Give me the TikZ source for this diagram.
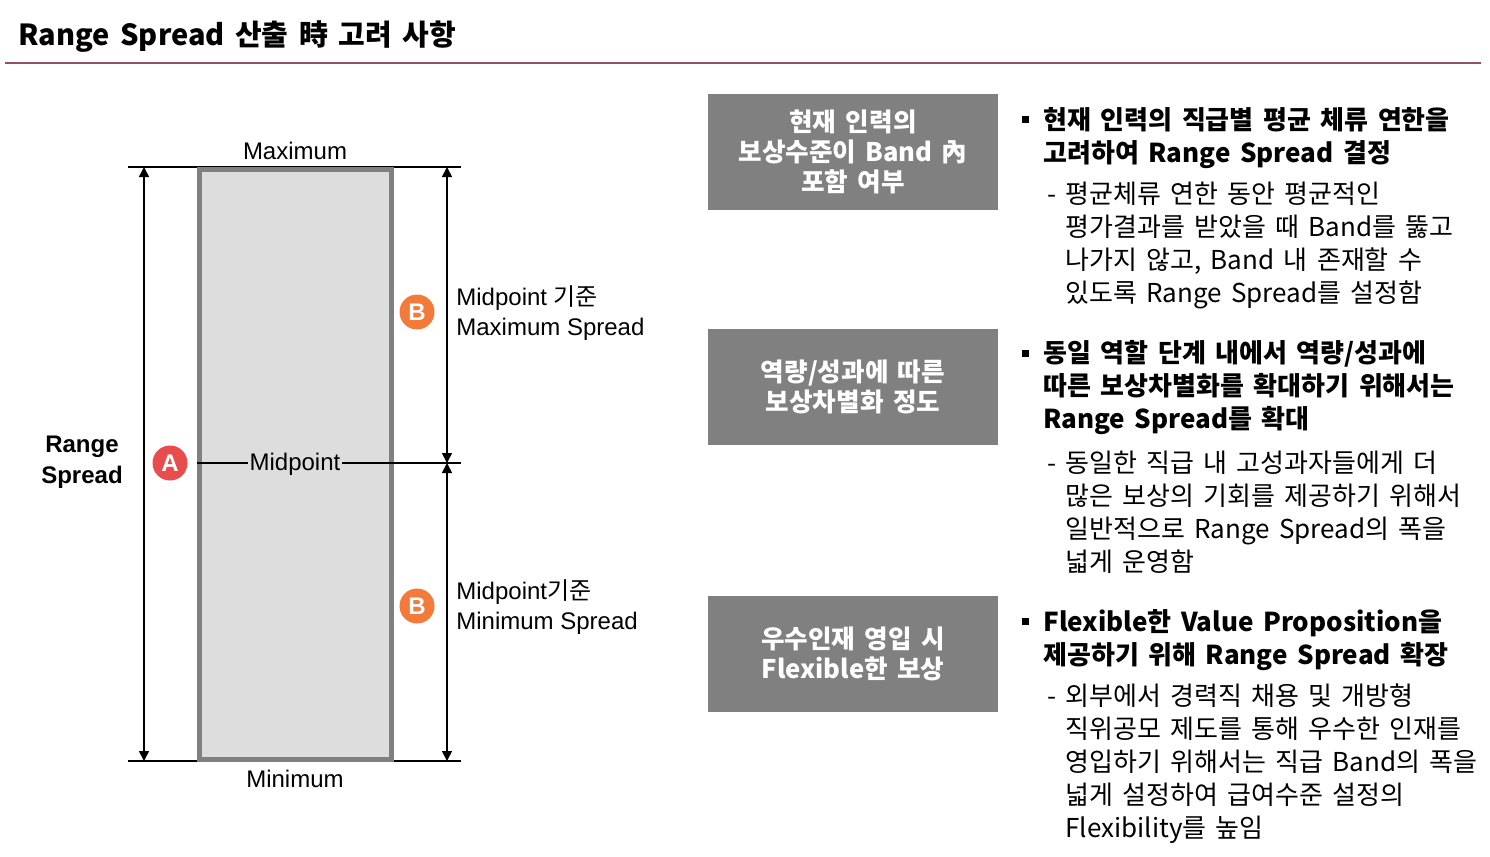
\documentclass[tikz,border=0pt]{standalone}
\usepackage{fontspec}
\setmainfont[WordSpace=1.6]{Noto Sans CJK KR}
\newfontfamily\krfont{Noto Sans CJK KR}
\newfontfamily\arialfont{Liberation Sans}
\usetikzlibrary{arrows.meta,positioning}
\definecolor{rulecolor}{RGB}{150,80,95}
\definecolor{boxgray}{RGB}{128,128,128}
\definecolor{bandfill}{RGB}{221,221,221}
\definecolor{redA}{RGB}{232,76,76}
\definecolor{orangeB}{RGB}{244,122,60}

\begin{document}
\begin{tikzpicture}[x=0.5pt,y=-0.5pt,>={Triangle[length=5pt,width=5pt]},
  every node/.style={inner sep=0pt},
  lbl/.style={font=\arialfont\fontsize{12}{15}\selectfont},
  band/.style={draw=boxgray,line width=2.5pt,fill=bandfill,minimum width=96pt,minimum height=295pt},
  marker/.style={circle,minimum size=17.5pt,text=white,font=\arialfont\bfseries\fontsize{12}{12}\selectfont},
  factor/.style={fill=boxgray,minimum width=145pt,minimum height=58pt,align=center,text=white,font=\bfseries\fontsize{12.8}{15}\selectfont},
  head/.style={anchor=west,align=left,font=\bfseries\fontsize{13}{16.5}\selectfont},
  detail/.style={anchor=west,align=left,font=\fontsize{13}{16.5}\selectfont}]
  \useasboundingbox (0,0) rectangle (1490,857);

  \node[anchor=west,font=\bfseries\fontsize{14.5}{14.5}\selectfont] (title) at (18,37) {Range Spread 산출 時 고려 사항};
  \coordinate (ruleL) at (5,63);
  \coordinate (ruleR) at (1481,63);
  \draw[rulecolor,line width=1pt] (ruleL) -- (ruleR);

  % band with its limits
  \coordinate (maxL) at (128,167);
  \coordinate (maxR) at (461,167);
  \coordinate (minL) at (128,761);
  \coordinate (minR) at (461,761);
  \coordinate (midR) at (461,463);
  \draw[line width=0.8pt] (maxL) -- (maxR);
  \draw[line width=0.8pt] (minL) -- (minR);
  \node[band] (band) at (295,464) {};
  \draw[line width=0.8pt] (band.west |- midR) -- (midR);
  \node[lbl,fill=bandfill,inner xsep=1pt,inner ysep=2pt] (mid) at (295,464) {Midpoint};
  \node[lbl] (maxlbl) at (295,151) {Maximum};
  \node[lbl] (minlbl) at (295,779) {Minimum};

  % spreads
  \coordinate (aTop) at (144,167);
  \coordinate (aBot) at (144,761);
  \coordinate (bTop) at (447,167);
  \coordinate (bMid) at (447,463);
  \coordinate (bBot) at (447,761);
  \draw[<->,line width=0.8pt] (aTop) -- (aBot);
  \draw[<->,line width=0.8pt] (bTop) -- (bMid);
  \draw[<->,line width=0.8pt] (bMid) -- (bBot);

  \node[lbl,font=\arialfont\bfseries\fontsize{12}{15.5}\selectfont,align=center] (range) at (82,462) {Range\\Spread};
  \node[marker,fill=redA] (mA) at (170,463) {A};
  \node[marker,fill=orangeB] (mB1) at (417,312) {B};
  \node[marker,fill=orangeB] (mB2) at (417,606) {B};
  \node[lbl,anchor=west,align=left] (spreadMax) at (456,313) {Midpoint {\krfont 기준}\\Maximum Spread};
  \node[lbl,anchor=west,align=left] (spreadMin) at (456,607) {Midpoint{\krfont 기준}\\Minimum Spread};

  % factors
  \node[factor] (f1) at (853,152) {\raisebox{-1pt}{\shortstack{현재 인력의\\보상수준이 Band 內\\포함 여부}}};
  \node[factor,below=59pt of f1] (f2) {역량/성과에 따른\\보상차별화 정도};
  \node[factor,below=75pt of f2] (f3) {우수인재 영입 시\\Flexible한 보상};

  \node[head] (h1) at (1043,138) {\llap{\rule[3pt]{3.5pt}{3.5pt}\hspace{7pt}}현재 인력의 직급별 평균 체류 연한을\\고려하여 Range Spread 결정};
  \node[detail] (d1) at (1065,245) {\llap{-\hspace{4.5pt}}평균체류 연한 동안 평균적인\\평가결과를 받았을 때 Band를 뚫고\\나가지 않고, Band 내 존재할 수\\있도록 Range Spread를 설정함};
  \node[head] (h2) at (1043,388) {\llap{\rule[3pt]{3.5pt}{3.5pt}\hspace{7pt}}동일 역할 단계 내에서 역량/성과에\\따른 보상차별화를 확대하기 위해서는\\Range Spread를 확대};
  \node[detail] (d2) at (1065,512.5) {\llap{-\hspace{4.5pt}}동일한 직급 내 고성과자들에게 더\\많은 보상의 기회를 제공하기 위해서\\일반적으로 Range Spread의 폭을\\넓게 운영함};
  \node[head] (h3) at (1043,640) {\llap{\rule[3pt]{3.5pt}{3.5pt}\hspace{7pt}}Flexible한 Value Proposition을\\제공하기 위해 Range Spread 확장};
  \node[detail] (d3) at (1065,763.5) {\llap{-\hspace{4.5pt}}외부에서 경력직 채용 및 개방형\\직위공모 제도를 통해 우수한 인재를\\영입하기 위해서는 직급 Band의 폭을\\넓게 설정하여 급여수준 설정의\\Flexibility를 높임};
\end{tikzpicture}
\end{document}
